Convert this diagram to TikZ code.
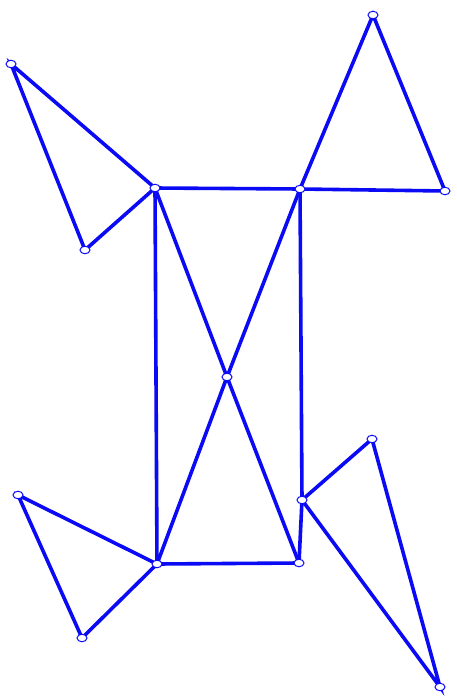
\documentclass[tikz,border=0pt]{standalone}
\usetikzlibrary{shapes.geometric}
\pgfdeclarelayer{bg}
\pgfsetlayers{bg,main}
\definecolor{lineblue}{RGB}{10,10,245}
\tikzset{
  vtx/.style={ellipse, draw=lineblue, line width=1pt, fill=white, minimum width=10pt, minimum height=7.5pt, inner sep=0pt},
  edge/.style={draw=lineblue, line width=3.6pt, line cap=round}
}
\begin{document}
\begin{tikzpicture}[x=1pt,y=-1pt]
\useasboundingbox (0,0) rectangle (456,699);
\node[vtx] (A) at (11,64) {};
\node[vtx] (B) at (85,250) {};
\node[vtx] (C) at (155,188) {};
\node[vtx] (D) at (300,189) {};
\node[vtx] (E) at (373,15) {};
\node[vtx] (F) at (445,191) {};
\node[vtx] (G) at (227,377) {};
\node[vtx] (H) at (157,564) {};
\node[vtx] (I) at (299,563) {};
\node[vtx] (J) at (18,495) {};
\node[vtx] (K) at (82,638) {};
\node[vtx] (M) at (302,500) {};
\node[vtx] (L) at (372,439) {};
\node[vtx] (N) at (440,687) {};
\begin{pgfonlayer}{bg}
\path[edge] (A.center) -- (B.center) -- (C.center) -- cycle;
\path[edge] (C.center) -- (D.center);
\path[edge] (D.center) -- (E.center) -- (F.center) -- cycle;
\path[edge] (C.center) -- (G.center) -- (D.center);
\path[edge] (H.center) -- (G.center) -- (I.center);
\path[edge] (C.center) -- (H.center);
\path[edge] (D.center) -- (M.center) -- (I.center);
\path[edge] (H.center) -- (I.center);
\path[edge] (H.center) -- (J.center) -- (K.center) -- cycle;
\path[edge] (M.center) -- (L.center) -- (N.center) -- cycle;
\end{pgfonlayer}
\end{tikzpicture}
\end{document}
